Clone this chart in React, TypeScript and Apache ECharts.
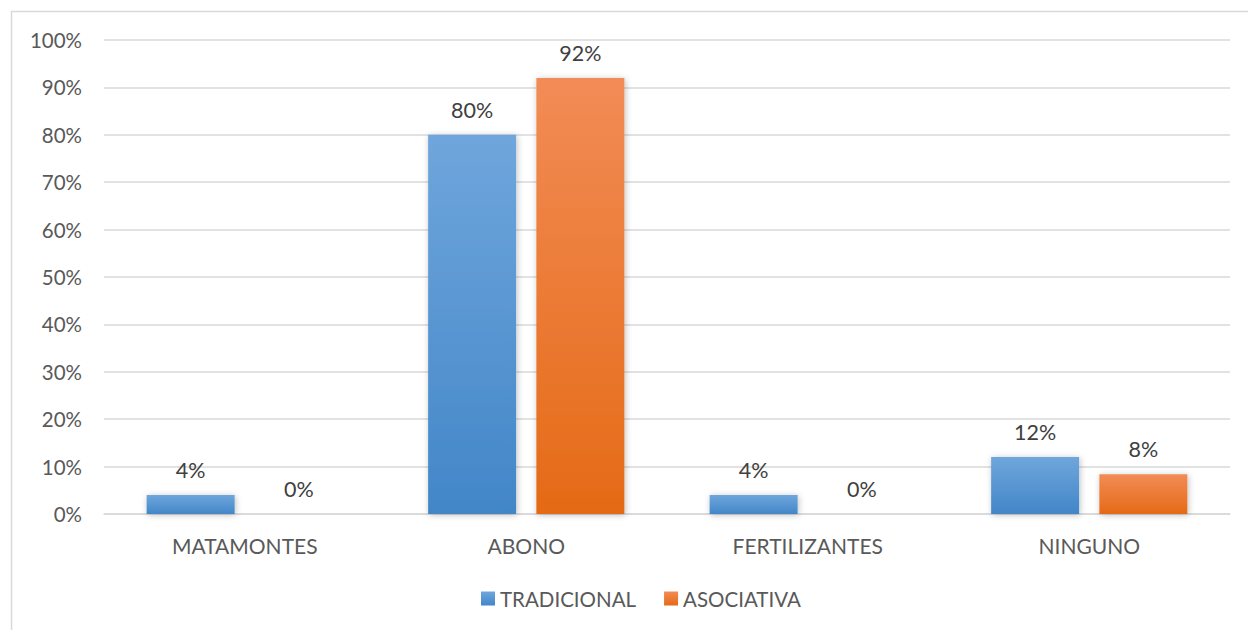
import React, { useEffect, useRef } from "react";
import * as echarts from "echarts";

const categories = ["MATAMONTES", "ABONO", "FERTILIZANTES", "NINGUNO"];
const tradicional = [4, 80, 4, 12];
const asociativa = [0, 92, 0, 8.4];
const seriesNames = ["TRADICIONAL", "ASOCIATIVA"];

const FONT = "Lato, 'Open Sans', sans-serif";

export default function App() {
  const ref = useRef<HTMLDivElement>(null);
  useEffect(() => {
    if (!ref.current) return;
    const chart = echarts.init(ref.current, null, { renderer: "svg" });
    const blue = new echarts.graphic.LinearGradient(0, 0, 0, 1, [
      { offset: 0, color: "#6fa6dc" },
      { offset: 1, color: "#4286c8" },
    ]);
    const orange = new echarts.graphic.LinearGradient(0, 0, 0, 1, [
      { offset: 0, color: "#f28c56" },
      { offset: 1, color: "#e56a16" },
    ]);
    const label = {
      show: true,
      position: "top" as const,
      distance: 14,
      fontFamily: FONT,
      fontSize: 21.5,
      color: "#404040",
      formatter: (p: any) => Math.round(p.value) + "%",
    };
    chart.setOption({
      animation: false,
      textStyle: { fontFamily: FONT },
      graphic: [
        {
          type: "rect",
          shape: { x: 11.5, y: 11.5, width: 1250, height: 640 },
          style: { fill: "none", stroke: "#d9d9d9", lineWidth: 1.5 },
          silent: true,
        },
      ],
      grid: { left: 104, right: 18, top: 40, bottom: 116 },
      legend: {
        top: 583,
        left: 476,
        itemWidth: 14,
        itemHeight: 14,
        itemGap: 28,
        itemTextGap: 7,
        icon: "rect",
        textStyle: { fontFamily: FONT, fontSize: 20.5, color: "#595959" },
        data: seriesNames,
      },
      xAxis: {
        type: "category",
        data: categories,
        axisLine: { lineStyle: { color: "#d9d9d9", width: 1.5 } },
        axisTick: { show: false },
        axisLabel: { fontFamily: FONT, fontSize: 21, color: "#595959", margin: 21 },
      },
      yAxis: {
        type: "value",
        min: 0,
        max: 100,
        interval: 10,
        axisLine: { show: false },
        axisTick: { show: false },
        splitLine: { lineStyle: { color: "#d9d9d9", width: 1.5 } },
        axisLabel: {
          fontFamily: FONT,
          fontSize: 20.5,
          color: "#595959",
          margin: 22,
          formatter: "{value}%",
        },
      },
      series: [
        {
          name: seriesNames[0],
          type: "bar",
          data: tradicional,
          barWidth: 88,
          barGap: "23%",
          itemStyle: {
            color: blue,
            shadowColor: "rgba(0,0,0,0.25)",
            shadowBlur: 6,
            shadowOffsetX: 1,
            shadowOffsetY: 1,
          },
          label,
        },
        {
          name: seriesNames[1],
          type: "bar",
          data: asociativa,
          barWidth: 88,
          itemStyle: {
            color: orange,
            shadowColor: "rgba(0,0,0,0.25)",
            shadowBlur: 6,
            shadowOffsetX: 1,
            shadowOffsetY: 1,
          },
          label,
        },
      ],
    });
    return () => chart.dispose();
  }, []);
  return (
    <div
      ref={ref}
      style={{ position: "absolute", left: 0, top: 0, width: 1248, height: 630, background: "#fff" }}
    />
  );
}
